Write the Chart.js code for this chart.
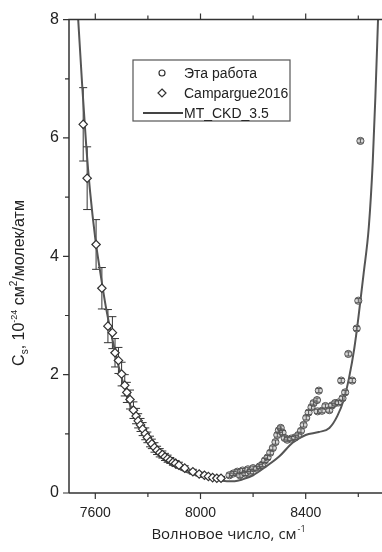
<!DOCTYPE html>
<html>
<head>
<meta charset="utf-8">
<script src="https://cdn.jsdelivr.net/npm/chart.js@4.4.1/dist/chart.umd.min.js"></script>
<style>
  html, body { margin: 0; padding: 0; background: #fff; overflow: hidden; }
  #wrap { width: 390px; height: 552px; }
</style>
</head>
<body>
<div id="wrap"><canvas id="chart" width="390" height="552"></canvas></div>
<script>
// Campargue2016 (diamonds) with ~10% error bars
const campX = [7554, 7569, 7603, 7625, 7648, 7665, 7675, 7688, 7700, 7712, 7720, 7732, 7745, 7755, 7763, 7772, 7780, 7790, 7798, 7808, 7815, 7825, 7835, 7845, 7855, 7865, 7875, 7885, 7895, 7905, 7918, 7940, 7971, 7995, 8015, 8030, 8046, 8062, 8078];
const campY = [6.23, 5.32, 4.20, 3.46, 2.82, 2.71, 2.37, 2.24, 2.01, 1.82, 1.70, 1.58, 1.40, 1.30, 1.22, 1.15, 1.08, 1.00, 0.94, 0.87, 0.83, 0.77, 0.72, 0.68, 0.65, 0.61, 0.58, 0.55, 0.52, 0.50, 0.47, 0.42, 0.36, 0.32, 0.30, 0.28, 0.26, 0.25, 0.25];
const campErr = [0.62, 0.53, 0.42, 0.35, 0.28, 0.27, 0.24, 0.22, 0.20, 0.18, 0.17, 0.16, 0.14, 0.13, 0.12, 0.11, 0.11, 0.10, 0.09, 0.09, 0.08, 0.08, 0.07, 0.07, 0.06, 0.06, 0.06, 0.05, 0.05, 0.05, 0.05, 0.04, 0.04, 0.03, 0.03, 0.03, 0.03, 0.03, 0.03];

// "Эта работа" (circles)
const workX = [8110, 8125, 8140, 8150, 8160, 8170, 8180, 8190, 8200, 8215, 8225, 8235, 8245, 8255, 8265, 8275, 8285, 8292, 8298, 8305, 8312, 8320, 8330, 8345, 8360, 8372, 8382, 8392, 8402, 8411, 8422, 8430, 8443, 8450, 8445, 8462, 8475, 8490, 8500, 8512, 8525, 8535, 8540, 8550, 8562, 8577, 8594, 8600, 8608];
const workY = [0.30, 0.33, 0.36, 0.30, 0.38, 0.33, 0.40, 0.36, 0.42, 0.41, 0.45, 0.48, 0.55, 0.60, 0.68, 0.76, 0.86, 0.98, 1.06, 1.10, 1.02, 0.93, 0.90, 0.92, 0.94, 0.98, 1.05, 1.15, 1.27, 1.36, 1.45, 1.52, 1.57, 1.73, 1.38, 1.39, 1.47, 1.40, 1.48, 1.52, 1.53, 1.90, 1.60, 1.70, 2.35, 1.90, 2.78, 3.25, 5.95];

// MT_CKD_3.5 curve
const ckdX = [7535, 7550, 7565, 7580, 7600, 7620, 7640, 7660, 7680, 7700, 7720, 7740, 7760, 7780, 7800, 7820, 7850, 7880, 7910, 7950, 8000, 8050, 8100, 8130, 8160, 8200, 8250, 8300, 8350, 8400, 8450, 8490, 8520, 8545, 8565, 8585, 8600, 8620, 8640, 8655, 8665, 8675];
const ckdY = [8.0, 6.9, 5.9, 5.1, 4.3, 3.7, 3.15, 2.7, 2.3, 1.95, 1.65, 1.4, 1.2, 1.02, 0.88, 0.76, 0.62, 0.51, 0.43, 0.35, 0.28, 0.23, 0.2, 0.2, 0.23, 0.3, 0.45, 0.62, 0.85, 0.98, 1.03, 1.1, 1.3, 1.58, 1.95, 2.45, 2.95, 3.7, 4.5, 5.6, 6.7, 8.0];

const xTickValues = [7600, 7800, 8000, 8200, 8400, 8600];
const xTickLabels = ['7600', '', '8000', '', '8400', ''];
const yTickValues = [0, 1, 2, 3, 4, 5, 6, 7, 8];
const yTickLabels = ['0', '', '2', '', '4', '', '6', '', '8'];

const ink = '#333';

const toPts = (xs, ys) => xs.map((x, i) => ({ x: x, y: ys[i] }));

// error bars, drawn through the scales
const errorBars = {
  id: 'errorBars',
  draw(chart, onTop) {
    const ctx = chart.ctx;
    const xs = chart.scales.x, ys = chart.scales.y;
    chart.data.datasets.forEach(ds => {
      if (!ds.errors || !!ds.errOnTop !== onTop) return;
      ctx.save();
      ctx.strokeStyle = ds.errColor || ink;
      ctx.lineWidth = 1;
      ds.data.forEach((p, i) => {
        const px = xs.getPixelForValue(p.x);
        const top = ys.getPixelForValue(p.y + ds.errors[i]);
        const bot = ys.getPixelForValue(p.y - ds.errors[i]);
        const w = ds.capWidth || 4;
        ctx.beginPath();
        ctx.moveTo(px, top); ctx.lineTo(px, bot);
        ctx.moveTo(px - w, top); ctx.lineTo(px + w, top);
        ctx.moveTo(px - w, bot); ctx.lineTo(px + w, bot);
        ctx.stroke();
      });
      ctx.restore();
    });
  },
  beforeDatasetsDraw(chart) { this.draw(chart, false); },
  afterDatasetsDraw(chart) { this.draw(chart, true); }
};

// frame, ticks, titles and legend
const decor = {
  id: 'decor',
  afterDraw(chart) {
    const ctx = chart.ctx;
    const a = chart.chartArea;
    const xs = chart.scales.x, ys = chart.scales.y;
    ctx.save();
    ctx.strokeStyle = ink;
    ctx.lineWidth = 1.5;
    ctx.beginPath();
    ctx.moveTo(a.left, a.bottom); ctx.lineTo(a.left, a.top); ctx.lineTo(a.right + 10, a.top);
    ctx.moveTo(a.left, a.bottom); ctx.lineTo(a.right + 10, a.bottom);
    ctx.stroke();

    ctx.lineWidth = 1.2;
    ctx.beginPath();
    xTickValues.forEach((v, i) => {
      const px = xs.getPixelForValue(v);
      const len = xTickLabels[i] ? 6 : 4;
      ctx.moveTo(px, a.bottom); ctx.lineTo(px, a.bottom + len);
      ctx.moveTo(px, a.top); ctx.lineTo(px, a.top - len);
    });
    yTickValues.forEach((v, i) => {
      const py = ys.getPixelForValue(v);
      const len = yTickLabels[i] ? 6 : 4;
      ctx.moveTo(a.left, py); ctx.lineTo(a.left - len, py);
    });
    ctx.stroke();

    // x title with superscript
    ctx.fillStyle = '#222';
    ctx.textBaseline = 'alphabetic';
    const xMain = 'Волновое число, см';
    ctx.font = '9px "Open Sans"';
    const supW = ctx.measureText('-1').width;
    ctx.font = '15px "Open Sans"';
    const mainW = ctx.measureText(xMain).width;
    let sx = 228 - (mainW + supW) / 2;
    ctx.fillText(xMain, sx, 539);
    ctx.font = '9px "Open Sans"';
    ctx.fillText('-1', sx + mainW + 1, 532);

    // y title, rotated, with sub/superscripts
    const parts = [
      ['C', 0, 16], ['s', 4, 10], [', 10', 0, 16], ['-24', -7, 9],
      [' см', 0, 16], ['2', -7, 10], ['/молек/атм', 0, 16]
    ];
    let total = 0;
    parts.forEach(p => { ctx.font = p[2] + 'px "Liberation Sans"'; total += ctx.measureText(p[0]).width; });
    ctx.save();
    ctx.translate(24, 283);
    ctx.rotate(-Math.PI / 2);
    let tx = -total / 2;
    parts.forEach(p => {
      ctx.font = p[2] + 'px "Liberation Sans"';
      ctx.fillText(p[0], tx, p[1]);
      tx += ctx.measureText(p[0]).width;
    });
    ctx.restore();

    // legend box
    const lx = 133, ly = 60, lw = 157, lh = 61;
    ctx.fillStyle = '#fff';
    ctx.fillRect(lx, ly, lw, lh);
    ctx.strokeStyle = '#555';
    ctx.lineWidth = 1.2;
    ctx.strokeRect(lx, ly, lw, lh);
    const sets = chart.data.datasets;
    sets.forEach((ds, i) => {
      const cy = ly + 13 + i * 20;
      const cx = 162;
      ctx.strokeStyle = ink;
      ctx.lineWidth = 1.2;
      if (ds.legendKind === 'circle') {
        ctx.fillStyle = '#fff';
        ctx.beginPath(); ctx.arc(cx, cy, 3, 0, Math.PI * 2); ctx.fill(); ctx.stroke();
      } else if (ds.legendKind === 'diamond') {
        ctx.fillStyle = '#fff';
        ctx.beginPath();
        ctx.moveTo(cx, cy - 4); ctx.lineTo(cx + 4, cy); ctx.lineTo(cx, cy + 4); ctx.lineTo(cx - 4, cy);
        ctx.closePath(); ctx.fill(); ctx.stroke();
      } else {
        ctx.strokeStyle = '#444';
        ctx.lineWidth = 2;
        ctx.beginPath(); ctx.moveTo(143, cy); ctx.lineTo(183, cy); ctx.stroke();
      }
      ctx.fillStyle = '#222';
      ctx.font = '14px "Liberation Sans"';
      ctx.textBaseline = 'middle';
      ctx.fillText(ds.label, 184, cy + 1);
    });
    ctx.restore();
  }
};

new Chart(document.getElementById('chart'), {
  type: 'scatter',
  data: {
    datasets: [
      {
        label: 'Эта работа',
        legendKind: 'circle',
        data: toPts(workX, workY),
        showLine: false,
        pointStyle: 'circle',
        pointRadius: 3.6,
        pointBackgroundColor: 'rgba(190,190,190,0.6)',
        pointBorderColor: '#555',
        pointBorderWidth: 1,
        errors: workX.map(() => 0.035),
        errOnTop: true,
        errColor: '#555',
        capWidth: 3,
        order: 1
      },
      {
        label: 'Campargue2016',
        legendKind: 'diamond',
        data: toPts(campX, campY),
        showLine: false,
        pointStyle: 'rectRot',
        pointRadius: 4.2,
        pointBackgroundColor: '#fff',
        pointBorderColor: '#333',
        pointBorderWidth: 1.2,
        errors: campErr,
        capWidth: 4,
        order: 2
      },
      {
        label: 'MT_CKD_3.5',
        legendKind: 'line',
        data: toPts(ckdX, ckdY),
        showLine: true,
        pointRadius: 0,
        borderColor: '#555',
        borderWidth: 2,
        cubicInterpolationMode: 'monotone',
        order: 3
      }
    ]
  },
  options: {
    responsive: false,
    animation: false,
    layout: { padding: { left: 0, top: 17, right: 4, bottom: 0 } },
    plugins: {
      legend: { display: false },
      tooltip: { enabled: false }
    },
    scales: {
      x: {
        type: 'linear',
        min: 7500,
        max: 8700,
        afterBuildTicks: s => { s.ticks = xTickValues.map(v => ({ value: v })); },
        afterFit: s => { s.height = 59; },
        grid: { display: false, drawTicks: false },
        border: { display: false },
        ticks: {
          padding: 12,
          color: '#222',
          font: { family: '"Liberation Sans"', size: 14 },
          callback: (v, i) => xTickLabels[i]
        }
      },
      y: {
        type: 'linear',
        min: 0,
        max: 8,
        afterBuildTicks: s => { s.ticks = yTickValues.map(v => ({ value: v })); },
        afterFit: s => { s.width = 69; },
        grid: { display: false, drawTicks: false },
        border: { display: false },
        ticks: {
          padding: 10,
          color: '#222',
          font: { family: '"Liberation Sans"', size: 16 },
          callback: (v, i) => yTickLabels[i]
        }
      }
    }
  },
  plugins: [errorBars, decor]
});
</script>
</body>
</html>
